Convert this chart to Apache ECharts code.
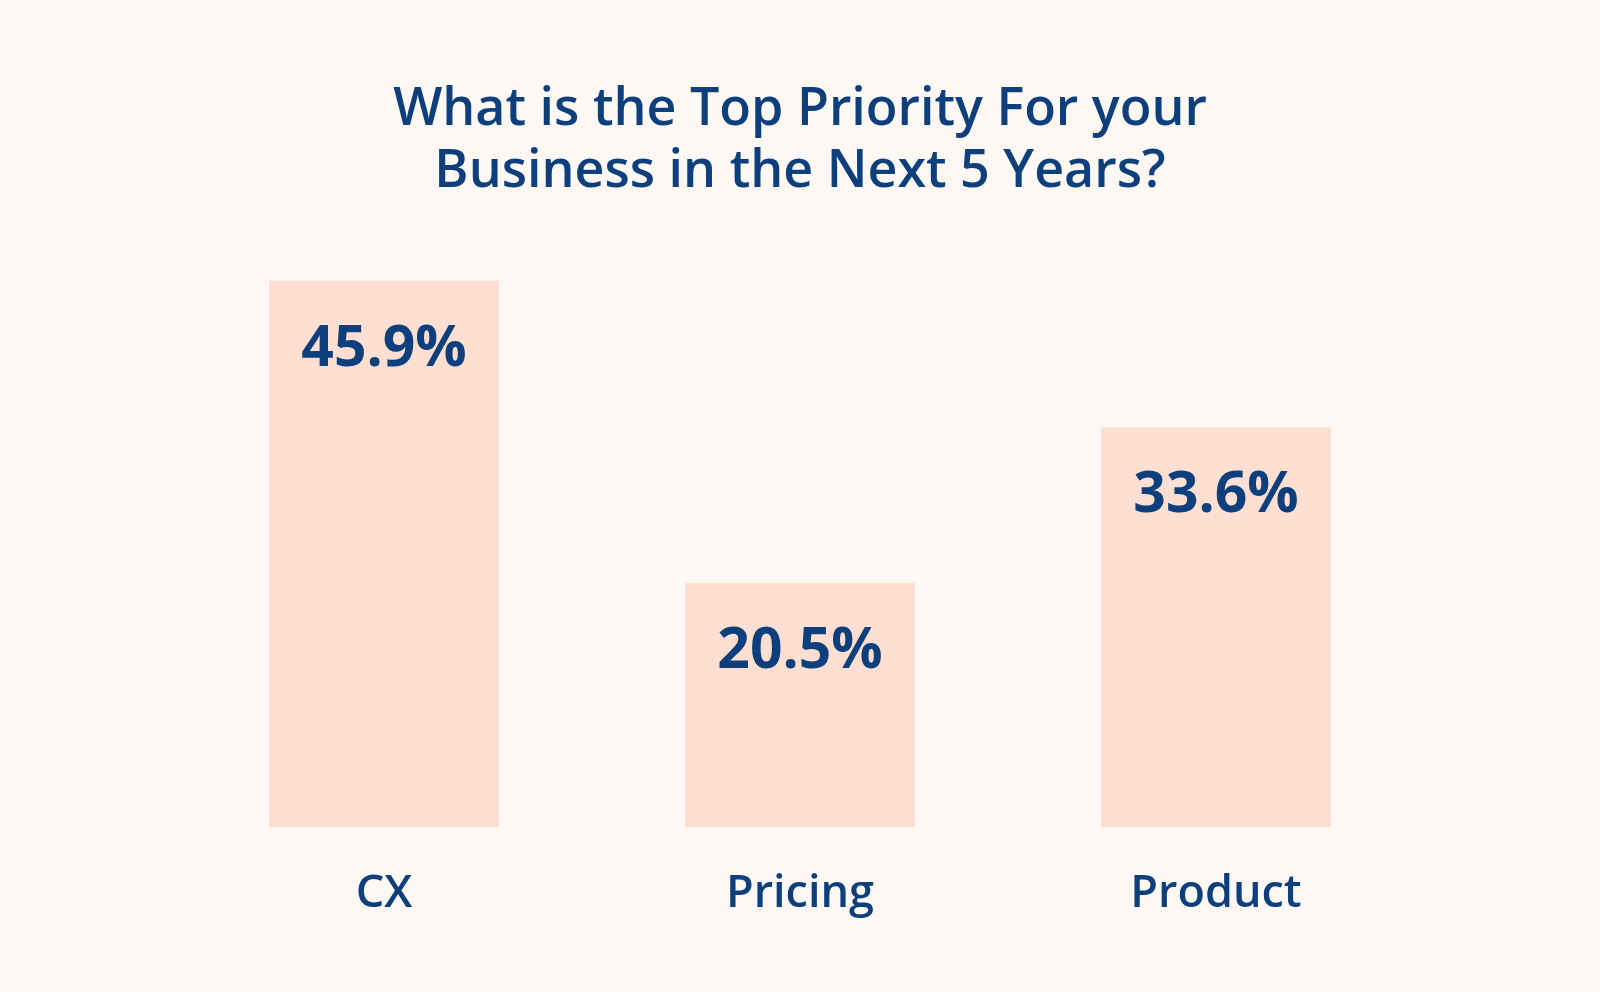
<!DOCTYPE html>
<html>
<head>
	<meta charset="utf-8">
	<title>Top Priority</title>
	<script src="https://cdn.jsdelivr.net/npm/echarts@6/dist/echarts.min.js"></script>
	<style>
		html,body{margin:0;padding:0;background:#fef8f4;}
		#chart{width:1600px;height:992px;}
	</style>
</head>
<body>
	<div id="chart"></div>
<script type="text/javascript">
// data
var categories = ['CX', 'Pricing', 'Product'];
var shares = [45.9, 20.5, 33.6];

var navy = '#0c3f7b';
var font = '"Open Sans"';

var myChart = echarts.init(document.getElementById('chart'));
var option = {
    backgroundColor: '#fef8f4',
    title: {
        text: 'What is the Top Priority For your\nBusiness in the Next 5 Years?',
        left: 'center',
        top: 74,
        textStyle: {
            color: navy,
            fontFamily: font,
            fontWeight: 600,
            fontSize: 52,
            lineHeight: 62
        }
    },
    grid: {
        left: 176,
        right: 176,
        top: 113,
        bottom: 165
    },
    xAxis: {
        type: 'category',
        data: categories,
        axisLine: {show: false},
        axisTick: {show: false},
        axisLabel: {
            color: navy,
            fontFamily: font,
            fontWeight: 600,
            fontSize: 45,
            margin: 45
        }
    },
    yAxis: {
        type: 'value',
        min: 0,
        max: 60,
        show: false
    },
    series: [{
        type: 'bar',
        data: shares,
        barWidth: 230,
        itemStyle: {color: '#ffdfd2'},
        label: {
            show: true,
            position: 'insideTop',
            distance: 40,
            formatter: '{c}%',
            color: navy,
            fontFamily: font,
            fontWeight: 'bold',
            fontSize: 57
        }
    }]
};
myChart.setOption(option);
</script>
</body>
</html>
